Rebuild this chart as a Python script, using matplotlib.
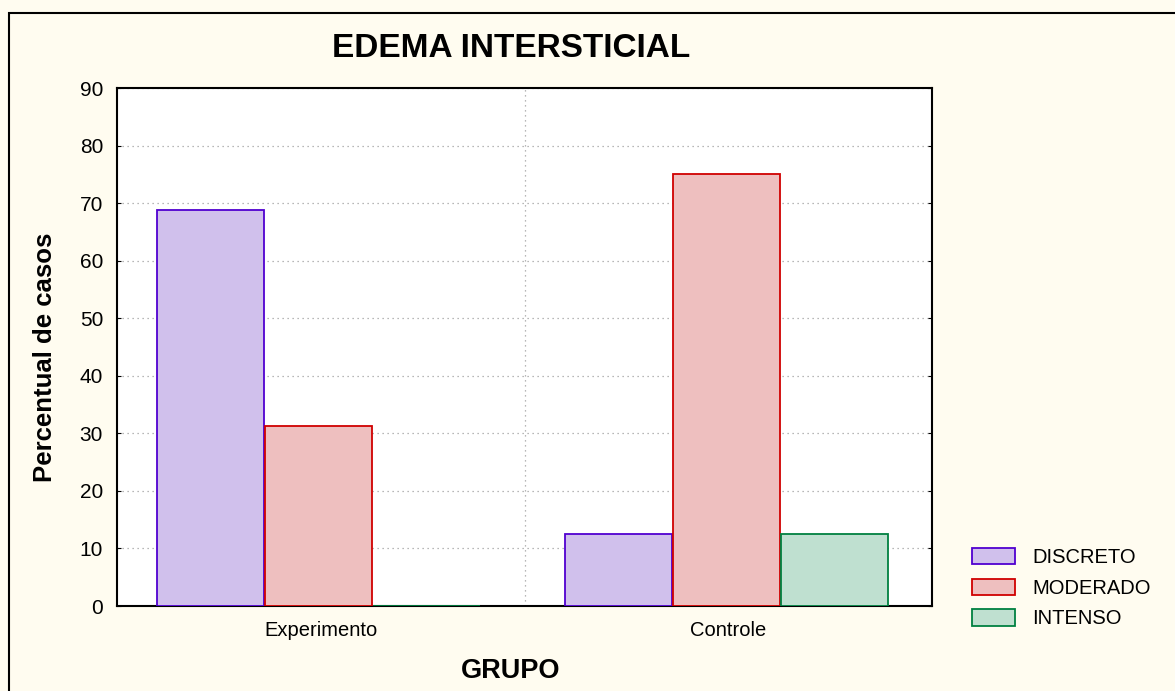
import numpy as np
import matplotlib
import matplotlib.pyplot as plt
from matplotlib.patches import Rectangle

matplotlib.use('Agg')
plt.rcParams['font.family'] = ['Liberation Sans', 'DejaVu Sans']

# Данные
grupos = ['Experimento', 'Controle']
graus = ['DISCRETO', 'MODERADO', 'INTENSO']
discreto = [68.75, 12.5]
moderado = [31.25, 75.0]
intenso = [0.0, 12.5]
yticks = [0, 10, 20, 30, 40, 50, 60, 70, 80, 90]

faces = ['#d0c0ec', '#eebfbf', '#bfe0d0']
edges = ['#5000d0', '#d00000', '#008040']

fig = plt.figure(figsize=(11.75, 6.91), dpi=100)
fig.patch.set_facecolor('#fffcf0')
# рамка вокруг всего рисунка
fig.patches.append(Rectangle((9 / 1175, -0.05), 1.1, 0.05 + (691 - 13) / 691,
                             transform=fig.transFigure, fill=False,
                             edgecolor='black', linewidth=1.5))

ax = fig.add_axes([117 / 1175, (691 - 606) / 691, (932 - 117) / 1175, (606 - 88) / 691])
ax.set_facecolor('white')

x = np.arange(len(grupos))
w = 0.265
for i, (vals, fc, ec, lab) in enumerate(zip([discreto, moderado, intenso], faces, edges, graus)):
    pos = x + (i - 1) * w - 0.005
    ax.bar(pos, vals, width=w * 0.99, color=fc, edgecolor=ec, linewidth=1.3, label=lab, zorder=3)

ax.set_xlim(-0.5, 1.5)
ax.set_ylim(0, 90)
ax.set_yticks(yticks)
ax.set_xticks(x)
ax.set_xticklabels(grupos, fontsize=14.5)
ax.tick_params(axis='y', labelsize=15, direction='in', length=3, right=True, pad=10)
ax.tick_params(axis='x', length=0, pad=11)
ax.set_xticks([0.5], minor=True)
ax.tick_params(axis='x', which='minor', length=0)
ax.grid(True, axis='y', color='#a0a0a0', linestyle=(0, (1, 3)), linewidth=0.9, zorder=0)
ax.grid(True, axis='x', which='minor', color='#a0a0a0', linestyle=(0, (1, 3)), linewidth=0.9, zorder=0)
for s in ax.spines.values():
    s.set_linewidth(1.5)

ax.set_title('EDEMA INTERSTICIAL', fontsize=24, fontweight='bold', pad=22, x=0.483)
ax.set_ylabel('Percentual de casos', fontsize=18.5, fontweight='bold')
ax.yaxis.set_label_coords(-0.0736, 0.48)
ax.set_xlabel('GRUPO', fontsize=19.5, fontweight='bold')
ax.xaxis.set_label_coords(0.483, -0.100)

fig.legend(loc='upper left', bbox_to_anchor=(954 / 1175, (691 - 530) / 691),
           frameon=False, fontsize=14.5, handlelength=2.14, handleheight=0.85,
           labelspacing=0.58, handletextpad=0.85)

plt.savefig('out.png', dpi=100, facecolor=fig.get_facecolor())
plt.close()
